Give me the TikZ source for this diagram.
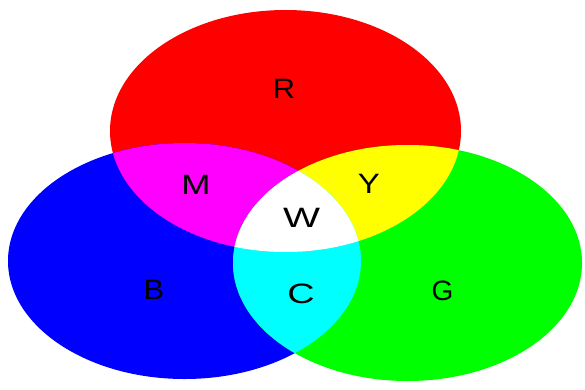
\documentclass[tikz,border=0pt]{standalone}
\usepackage{fontspec}
\setmainfont{Liberation Sans}
\usepackage{tikz}

\definecolor{pR}{RGB}{255,0,0}
\definecolor{pG}{RGB}{0,255,0}
\definecolor{pB}{RGB}{0,0,255}
\definecolor{pM}{RGB}{255,0,255}
\definecolor{pY}{RGB}{255,255,0}
\definecolor{pC}{RGB}{0,255,255}

\newcommand{\ellR}{(285.5,131) ellipse [x radius=175.5, y radius=121]}
\newcommand{\ellB}{(184.5,261) ellipse [x radius=176.5, y radius=118]}
\newcommand{\ellG}{(407.5,263) ellipse [x radius=174.5, y radius=118]}

\begin{document}
\begin{tikzpicture}[
    x=1pt, y=-1pt,
    lbl/.style={font=\fontsize{28}{28}\selectfont, text=black, inner sep=0pt}
]
\useasboundingbox (0,0) rectangle (585,389);

% primaries
\fill[pR] \ellR;
\fill[pB] \ellB;
\fill[pG] \ellG;

% pairwise overlaps
\begin{scope}
  \clip \ellR;
  \fill[pM] \ellB;
  \fill[pY] \ellG;
\end{scope}
\begin{scope}
  \clip \ellB;
  \fill[pC] \ellG;
\end{scope}

% all three
\begin{scope}
  \clip \ellR;
  \clip \ellB;
  \fill[white] \ellG;
\end{scope}

\node[lbl, xscale=1.1] (r) at (284,89) {R};
\node[lbl, xscale=1.25] (m) at (196,185) {M};
\node[lbl, xscale=1.18] (y) at (369,183.5) {Y};
\node[lbl, xscale=1.4] (w) at (301.5,217.5) {W};
\node[lbl, xscale=1.1] (b) at (154,289.5) {B};
\node[lbl, xscale=1.35] (c) at (301,293.5) {C};
\node[lbl, xscale=1.0] (g) at (442.5,290.5) {G};
\end{tikzpicture}
\end{document}
